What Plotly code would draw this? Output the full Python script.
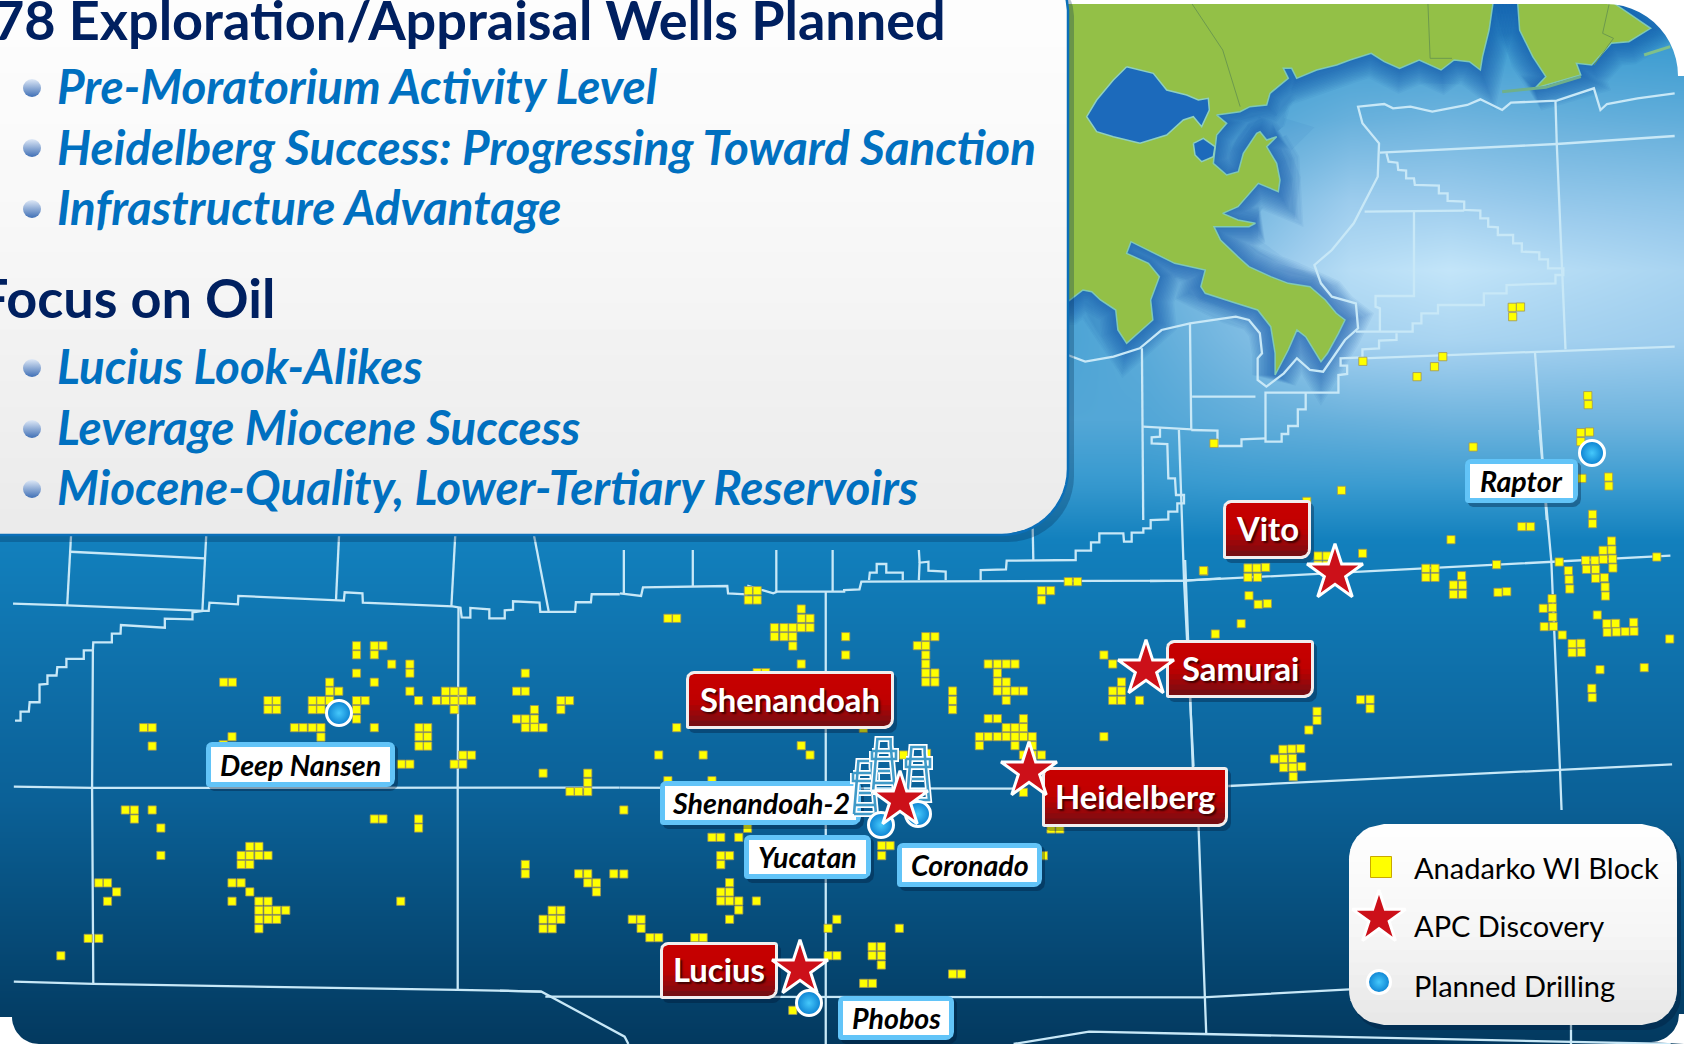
import numpy as np
import plotly.graph_objects as go

W, H = 1684, 1044
# ---------- reading frames of the picture: (origin x, origin y, scale x, scale y)
F1 = (1000, 0, 2.29, 3.0)
F2 = (0, 520, 2.53, 2.99)
F3 = (620, 560, 2.61, 3.0)
F4 = (1150, 430, 2.94, 3.0)
F5 = (1070, 0, 3.0, 3.0)
F6 = (930, 400, 3.0, 3.0)
F7 = (500, 960, 1.324, 3.0)

def conv(pts, f):
    return [(f[0] + p[0] / f[2], f[1] + p[1] / f[3]) for p in pts]

# ---------- sea shading
sea_x = [12, 1067, 1150, 1250, 1350, 1450, 1550, 1680]
sea_y = [4, 120, 200, 270, 340, 420, 490, 540, 640, 800, 900, 1044]
sea_z = [
    [.45, .50, .52, .52, .52, .50, .50, .50],
    [.45, .52, .58, .62, .68, .70, .68, .66],
    [.50, .58, .62, .72, .85, .85, .82, .80],
    [.50, .60, .68, .80, .95, 1.0, .95, .90],
    [.50, .60, .65, .75, .88, .90, .88, .85],
    [.50, .62, .62, .66, .68, .70, .70, .70],
    [.50, .53, .53, .54, .54, .54, .54, .54],
    [.45, .45, .45, .45, .45, .45, .45, .45],
    [.38, .38, .38, .38, .38, .38, .38, .38],
    [.27, .27, .27, .27, .27, .27, .27, .27],
    [.15, .15, .15, .15, .15, .15, .15, .15],
    [.00, .00, .00, .00, .00, .00, .00, .00],
]
sea_scale = [[0, "#03395f"], [.15, "#07507f"], [.3, "#0c659d"], [.45, "#1280bd"],
             [.55, "#3a9bd0"], [.7, "#6fb4de"], [.85, "#9ccced"], [1, "#c3e5f9"]]

# ---------- land
land_a = [(100,0),(1130,0),(1120,90),(1105,170),(1100,210),(1075,185),(1040,180),(1010,210),(960,180),(915,205),(880,185),(850,160)]
land_b = [(840,180),(800,195),(740,210),(680,235),(665,205),(640,205),(655,235),(600,280),(590,315),(540,320),(510,335),(470,340),(440,345),(470,370),(440,405),(430,490),(470,525),(505,515),(520,460),(560,400),(570,395),(590,420),(620,410),(590,440),(620,490),(630,540),(625,575),(565,550),(520,600)]
land_c = [(545,620),(510,640),(545,660),(585,670),(570,680),(490,680),(505,720),(545,770),(570,800),(620,830),(660,850),(710,860),(745,900),(770,940),(790,960),(775,1000),(750,1060),(735,1085),(700,1010),(680,990),(660,1050),(630,1125),(630,1060),(620,980),(590,930),(530,905),(470,880),(460,860),(470,810),(400,790),(340,750),(300,725),(290,760),(340,790),(365,830),(345,900),(350,960),(290,1030),(270,990),(265,930),(230,900),(210,875),(190,870),(155,905),(100,905)]
land_east = [(1185,0),(1190,90),(1220,170),(1250,230),(1225,265),(1330,225),(1320,190),(1355,195),(1400,130),(1440,125),(1490,85),(1440,40),(1395,0)]
lake = [(170,200),(250,220),(290,270),(350,285),(385,300),(415,295),(418,330),(395,380),(370,350),(340,360),(290,405),(210,430),(130,410),(80,395),(50,350),(80,300),(130,240)]
pond = [(370,430),(400,415),(435,440),(430,470),(395,485),(375,465)]
barrier_isle = [(1150,275),(1250,262),(1330,230)]
east_isle = [(1475,165),(1535,140)]
state_lines = [[(440,12),(510,150),(550,320)], [(980,12),(985,175),(1035,175)], [(1395,12),(1380,100),(1405,115),(1360,195)]]

# ---------- lease-area boundary lines
lines_f1 = [
 [(155,1065),(195,1085),(260,1070),(320,1045),(370,990),(435,970),(540,950),(570,960),(595,1000),(600,1060),(590,1075),(590,1140),(610,1160),(650,1120),(680,1075),(710,1110),(740,1115),(790,1020),(820,985),(815,910),(760,890),(735,850),(720,795),(760,750),(810,670),(865,530),(868,430),(830,370),(820,320),(880,312),(900,325),(940,320),(990,335),(1070,315),(1100,298),(1150,330),(1170,308),(1275,302),(1360,265),(1375,330),(1390,312),(1460,295),(1545,280)],
 [(870,458),(1275,432),(1545,408)],
 [(1272,302),(1275,432),(1295,1048)],
 [(885,460),(890,485),(910,488),(912,510),(930,512),(930,535),(948,535),(950,555),(1005,557),(1005,580),(1025,580),(1025,603),(1063,605),(1063,630),(1100,632),(1100,655),(1118,655),(1118,680),(1140,682),(1140,705),(1175,705),(1175,730),(1195,730),(1195,755),(1235,757),(1235,778),(1255,778),(1255,805),(1290,805),(1290,825),(1272,825),(1272,850),(1160,855),(1160,880),(1108,880),(1108,915),(1003,915),(1003,940),(965,940),(965,970),(945,970),(945,995),(815,995)],
 [(835,635),(1063,632)],
 [(948,635),(948,888),(860,888),(860,920),(870,925),(870,995)],
 [(908,1000),(908,1020),(868,1022),(868,1045),(830,1048),(830,1072),(780,1075),(780,1097),(795,1097),(795,1122),(775,1125),(775,1178),(608,1178),(608,1325),(645,1325),(645,1302),(660,1302),(660,1278),(682,1278),(682,1228),(700,1228),(700,1178)],
 [(830,1075),(1225,1055),(1545,1040)],
 [(1225,1055),(1252,1560)],
 [(325,1045),(328,1560)],
 [(435,970),(438,1288),(328,1280)],
 [(440,1190),(585,1190)],
 [(438,1290),(498,1292),(498,1338),(553,1338),(553,1318),(608,1315)],
]
lines_f2 = [
 [(33,250),(170,255),(515,272),(528,272),(530,247),(602,252),(603,227),(850,241),(870,241),(872,216),(917,219),(918,247),(1145,258),(1165,262),(1168,291),(1190,292),(1190,263),(1238,267),(1238,294),(1277,294),(1277,270),(1298,268),(1298,243),(1365,247),(1367,275),(1455,275),(1457,246),(1495,246),(1497,222),(1568,222)],
 [(180,40),(170,255)], [(178,95),(518,115)], [(522,40),(512,272)], [(858,40),(850,241)], [(1152,40),(1142,258)], [(1350,40),(1388,272)],
 [(38,600),(52,600),(52,573),(73,573),(75,545),(100,545),(100,492),(120,490),(120,465),(143,465),(145,440),(168,440),(168,415),(212,415),(212,390),(235,390),(236,366),(283,366),(283,340),(305,340),(306,314),(417,322),(417,295),(487,297),(487,276),(515,272)],
 [(235,390),(233,800),(236,1386)],
 [(1160,262),(1158,800),(1158,1405)],
 [(35,797),(233,801),(1568,800)],
 [(35,1380),(236,1387),(1158,1405),(1370,1410)],
]
lines_f3 = [
 [(0,100),(55,108),(60,82),(280,78),(282,100),(330,103),(335,78),(400,100),(410,95),(585,95),(585,90),(625,88),(630,65),(1474,62),(1568,55)],
 [(650,60),(652,38),(670,38),(670,12),(695,12),(695,38),(738,38),(738,60)],
 [(780,60),(782,8),(805,5),(805,32),(850,35),(850,60)],
 [(10,-30),(10,100)], [(190,-30),(190,80)], [(408,-30),(408,95)], [(555,-30),(555,95)],
 [(780,-30),(782,8)],
 [(537,95),(537,1452)],
 [(0,683),(1040,686)],
 [(1475,0),(1482,240),(1495,620),(1510,800),(1530,1420)],
]
lines_f4 = [
 [(85,0),(100,450),(128,1010)],
 [(0,453),(100,452),(620,425),(1530,377)],
 [(1145,0),(1180,395),(1205,1010),(1210,1140)],
 [(230,1068),(1535,1003)],
]
lines_f6 = [
 [(690,85),(690,110),(665,112),(665,130),(712,132),(715,235),(735,235),(738,285),(762,285),(762,310),(742,310),(742,335),(715,335),(715,358),(662,360),(662,385),(640,385),(640,398),(605,398),(605,425),(582,425),(580,400),(508,400),(508,427),(483,427),(483,452),(437,452),(437,480),(230,482),(228,508),(152,510),(152,540)],
 [(308,385),(310,480)],
]
lines_f7 = [
 [(0,92),(55,95),(165,230),(170,252)],
 [(60,110),(930,112),(1125,88)],
 [(680,252),(780,215),(930,222),(1420,245),(1550,252)],
 [(1418,195),(1418,252)],
]

# ---------- Anadarko WI blocks
blocks_f1 = [(1173,922),(1192,921),(1174,950),(1014,1070),(995,1100),(955,1130),(831,1084),(490,1330),(1346,1187),(1347,1214),(1330,1298),(1350,1296),(1330,1325)]
blocks_f2 = [(902,376),(902,403),(947,376),(969,376),(947,403),(991,431),(1037,431),(1037,458),(902,458),(947,485),(1037,512),(1059,540),(566,485),(588,485),(834,485),(834,512),(857,512),(678,540),(700,540),(678,567),(700,567),(790,540),(812,540),(834,540),(790,567),(812,567),(902,540),(924,540),(902,567),(902,595),(745,621),(767,621),(790,621),(812,621),(812,649),(947,621),(1127,512),(1149,512),(1171,512),(1104,540),(1127,540),(1149,540),(1171,540),(1193,540),(1149,567),(1060,621),(1082,621),(1060,648),(1082,648),(1060,676),(1082,676),(363,621),(385,621),(385,676),(587,648),(565,672),(1171,703),(1193,703),(1149,730),(1171,730),(1015,730),(1037,730),(1329,458),(1307,512),(1329,512),(1419,540),(1441,540),(1419,567),(1352,567),(1307,595),(1329,595),(1352,595),(1329,621),(1352,621),(1374,621),(1374,757),(1487,757),(1487,785),(1442,812),(1464,812),(1487,812),(317,867),(340,867),(340,894),(385,867),(407,921),(407,1003),(947,894),(969,894),(1059,894),(1059,921),(632,976),(655,976),(610,1003),(632,1003),(655,1003),(678,1003),(610,1030),(632,1030),(1329,1030),(1329,1058),(1464,1058),(1487,1058),(1487,1085),(1509,1085),(1509,1112),(1553,1058),(250,1085),(272,1085),(295,1112),(272,1140),(587,1085),(610,1085),(632,1112),(587,1140),(655,1140),(678,1140),(655,1167),(678,1167),(700,1167),(723,1167),(655,1194),(678,1194),(700,1194),(655,1222),(1014,1140),(1397,1167),(1419,1167),(1374,1194),(1397,1194),(1419,1194),(1374,1222),(1397,1222),(223,1251),(250,1251),(154,1303)]
blocks_f3 = [(335,92),(358,92),(335,120),(358,120),(125,175),(148,175),(473,147),(473,175),(496,175),(403,203),(428,203),(451,203),(473,203),(496,203),(403,230),(428,230),(451,230),(451,258),(473,312),(358,338),(380,338),(589,230),(589,285),(798,230),(822,230),(776,257),(798,257),(798,285),(798,312),(798,339),(822,339),(798,366),(822,366),(868,393),(868,421),(868,449),(961,312),(985,312),(1008,312),(1031,312),(985,339),(985,366),(1008,366),(985,393),(1008,393),(1031,393),(1053,393),(1008,421),(961,476),(985,476),(1053,476),(1008,503),(1031,503),(1053,503),(938,530),(961,530),(985,530),(1008,530),(1031,530),(1053,530),(1076,530),(938,557),(1031,557),(1076,557),(1053,585),(1076,585),(1100,585),(1263,530),(1263,285),(1286,312),(1309,366),(1286,393),(1309,393),(1286,421),(1309,421),(1356,421),(1100,92),(1124,92),(1100,120),(1170,65),(1194,65),(1524,33),(148,503),(635,505),(473,557),(496,585),(101,585),(217,585),(125,662),(240,662),(10,750),(333,805),(240,832),(263,832),(310,832),(263,887),(286,887),(263,914),(10,942),(286,968),(263,996),(286,996),(263,1023),(286,1023),(310,1023),(356,1023),(310,1050),(286,1078),(683,857),(705,857),(683,887),(1105,887),(1125,807),(1148,807),(1053,697),(740,585),(800,580),(32,1078),(55,1078),(55,1105),(78,1133),(101,1133),(195,1133),(217,1133),(566,1078),(543,1105),(729,1105),(658,1160),(682,1160),(658,1187),(682,1187),(682,1215),(543,1187),(566,1187),(868,1242),(891,1242),(636,1270),(659,1270),(451,1351)]
blocks_f4 = [(950,51),(563,181),(461,214),(625,370),(885,329),(1093,290),(1119,290),(1301,253),(1301,281),(1250,145),(1270,145),(1348,141),(1349,168),(157,422),(288,414),(314,414),(340,412),(288,442),(316,442),(494,378),(520,378),(494,405),(520,405),(291,497),(318,523),(345,521),(268,581),(192,612),(811,415),(838,415),(811,442),(838,442),(916,437),(892,465),(919,465),(892,493),(919,493),(1019,404),(1023,487),(1049,485),(1203,396),(1230,422),(1232,449),(1234,477),(1182,506),(1156,535),(1183,533),(1184,561),(1159,590),(1186,589),(1212,615),(1241,641),(1267,640),(1241,668),(1268,667),(1281,391),(1308,391),(1332,361),(1357,333),(1358,360),(1333,388),(1360,387),(1361,414),(1283,418),(1310,418),(1310,445),(1336,443),(1338,471),(1339,498),(1315,555),(1343,581),(1369,580),(1422,577),(1344,607),(1371,606),(1397,605),(1423,604),(1490,381),(1528,627),(1323,719),(1453,713),(1299,775),(1300,803),(619,809),(647,808),(647,836),(491,844),(491,871),(467,900),(391,958),(417,957),(443,956),(366,987),(392,986),(419,985),(393,1013),(420,1012),(446,1010),(421,1040)]

# ---------- named features
star_x = [1335, 1146, 1029, 900, 800]
star_y = [573, 669, 771, 800, 969]
drill_x = [1592, 339, 881, 918, 809]
drill_y = [453, 713, 825, 814, 1003]
tower_cx = [865, 884, 918]
tower_cy = [787, 765, 773]
red_labels = ["Shenandoah", "Samurai", "Heidelberg", "Vito", "Lucius"]
red_boxes = [(686,671,894,729),(1166,640,1314,698),(1042,767,1228,827),(1223,500,1311,559),(660,942,778,999)]
white_labels = ["Deep Nansen", "Raptor", "Shenandoah-2", "Yucatan", "Coronado", "Phobos"]
white_boxes = [(206,742,395,787),(1465,459,1578,503),(660,781,861,825),(744,835,871,879),(897,843,1042,887),(838,996,954,1040)]
headings = ["78 Exploration/Appraisal Wells Planned", "Focus on Oil"]
heading_right = [948, 277]
heading_y = [19, 297]
bullets = ["Pre-Moratorium Activity Level", "Heidelberg Success: Progressing Toward Sanction", "Infrastructure Advantage",
           "Lucius Look-Alikes", "Leverage Miocene Success", "Miocene-Quality, Lower-Tertiary Reservoirs"]
bullet_y = [85, 146, 206, 365, 426, 486]
bullet_dot_y = [88, 148, 209, 368, 429, 489]
legend_labels = ["Anadarko WI Block", "APC Discovery", "Planned Drilling"]
legend_y = [867, 925, 985]

LINE = "#c8e8f7"
fig = go.Figure()

def poly(pts, fill, line=None, lw=0):
    xs, ys = zip(*pts)
    fig.add_trace(go.Scatter(x=list(xs) + [xs[0]], y=list(ys) + [ys[0]], mode="lines", fill="toself", fillcolor=fill,
                             line=dict(color=line or fill, width=lw), hoverinfo="skip"))

def path(pts, color, w, close=False):
    xs, ys = zip(*pts)
    if close:
        xs, ys = list(xs) + [xs[0]], list(ys) + [ys[0]]
    fig.add_trace(go.Scatter(x=list(xs), y=list(ys), mode="lines", line=dict(color=color, width=w, shape="linear"), hoverinfo="skip"))

def arc(cx, cy, r, a0, a1, n=14):
    t = np.radians(np.linspace(a0, a1, n))
    return [(cx + r * np.cos(v), cy + r * np.sin(v)) for v in t]

def outline(x0, y0, x1, y1, r):
    tl, tr, br, bl = r
    p = []
    p += arc(x0 + tl, y0 + tl, tl, 180, 270) if tl else [(x0, y0)]
    p += arc(x1 - tr, y0 + tr, tr, 270, 360) if tr else [(x1, y0)]
    p += arc(x1 - br, y1 - br, br, 0, 90) if br else [(x1, y1)]
    p += arc(x0 + bl, y1 - bl, bl, 90, 180) if bl else [(x0, y1)]
    return p

def edges(y, x0, y0, x1, y1, r):
    tl, tr, br, bl = r
    def cut(rad, d):
        return rad - np.sqrt(max(rad * rad - (rad - d) ** 2, 0)) if rad and d < rad else 0
    return x0 + max(cut(tl, y - y0), cut(bl, y1 - y)), x1 - max(cut(tr, y - y0), cut(br, y1 - y))

def hex2(c):
    return np.array([int(c[i:i + 2], 16) for i in (1, 3, 5)], float)

def grad_box(box, r, stops, n):
    x0, y0, x1, y1 = box
    ys = np.linspace(y0, y1, n + 1)
    pos = [s[0] for s in stops]
    cols = np.array([hex2(s[1]) for s in stops])
    for i in range(n):
        a, b = ys[i], min(ys[i + 1] + 1, y1)
        m = (ys[i] + ys[i + 1]) / 2
        t = (m - y0) / (y1 - y0)
        c = [np.interp(t, pos, cols[:, k]) for k in range(3)]
        yy = np.linspace(a, b, 5)
        L = [(edges(v, x0, y0, x1, y1, r)[0], v) for v in yy]
        R = [(edges(v, x0, y0, x1, y1, r)[1], v) for v in yy]
        poly(L + R[::-1], "rgb(%d,%d,%d)" % tuple(c))

# sea
fig.add_trace(go.Heatmap(x=sea_x, y=sea_y, z=sea_z, colorscale=sea_scale, zmin=0, zmax=1, zsmooth="best", showscale=False, hoverinfo="skip"))

# land with shore shading
land_m = conv(land_a, F1) + conv(land_b, F5) + conv(land_c, F1)
land_e = conv(land_east, F1)
for pts in (land_m, land_e):
    for w in range(46, 3, -3):
        path(pts, "rgba(22,88,172,0.06)", w, True)
    poly(pts, "#93c047")
    path(pts, "rgba(130,205,190,0.9)", 1.5, True)
for pts in (conv(lake, F5), conv(pond, F5)):
    poly(pts, "#1c6abb", "#8fd0c0", 1.5)
path(conv(barrier_isle, F1), "#6fb08a", 3)
path(conv(east_isle, F1), "#7fc08a", 3)
for s in state_lines:
    path(conv(s, F1), "#6d9a4d", 1)

# boundaries
for group, f in ((lines_f1, F1), (lines_f2, F2), (lines_f3, F3), (lines_f4, F4), (lines_f6, F6), (lines_f7, F7)):
    for l in group:
        path(conv(l, f), LINE, 2.3)

# blocks
bpts = conv(blocks_f1, F1) + conv(blocks_f2, F2) + conv(blocks_f3, F3) + conv(blocks_f4, F4)
fig.add_trace(go.Scatter(x=[p[0] for p in bpts], y=[p[1] for p in bpts], mode="markers", hoverinfo="skip",
                         marker=dict(symbol="square", size=8.2, color="#ffff00", line=dict(color="#a0965a", width=0.8))))

# page-corner masks and top margin
poly([(1606, 0)] + arc(1606, 76, 72, 270, 360) + [(1684, 76), (1684, 0)], "#ffffff")
poly(arc(39, 1017, 27, 90, 180) + [(0, 1017), (0, 1044)], "#ffffff")
poly(arc(1651, 1014, 28, 0, 90) + [(1684, 1044), (1684, 1014)], "#ffffff")
poly([(1040, 0), (1684, 0), (1684, 4), (1040, 4)], "#ffffff")

# text panel
PANEL = (-20, -30, 1068, 535)
PR = (0, 40, 66, 0)
poly(outline(-20, -24, 1074, 542, PR), "rgba(0,40,80,0.28)")
grad_box(PANEL, PR, [(0, "#ffffff"), (.4, "#f9f9f9"), (1, "#ebebeb")], 22)
path(outline(*PANEL, PR), "#0b6fb8", 2.5, True)
fig.add_trace(go.Scatter(x=[32] * len(bullet_dot_y), y=bullet_dot_y, mode="markers", hoverinfo="skip",
                         marker=dict(symbol="circle", size=18, opacity=1, color="#dfe9f7", gradient=dict(type="vertical", color="#3f6fb5"), line=dict(width=0))))

# legend panel
LB = (1349, 824, 1677, 1025)
LR = (35, 35, 35, 35)
poly(outline(1352, 828, 1681, 1030, LR), "rgba(0,20,50,0.30)")
grad_box(LB, LR, [(0, "#ffffff"), (.5, "#f7f7f7"), (1, "#e8e8e8")], 16)

# white labels
for b in white_boxes:
    x0, y0, x1, y1 = b
    poly(outline(x0 + 3, y0 + 3, x1 + 3, y1 + 4, (5, 5, 8, 5)), "rgba(0,20,50,0.35)")
    poly(outline(x0, y0, x1, y1, (6, 6, 8, 3)), "#62c4f8")
    poly([(x0 + 5, y0 + 5), (x1 - 5, y0 + 5), (x1 - 5, y1 - 5), (x0 + 5, y1 - 5)], "#ffffff")

# red labels
for b in red_boxes:
    x0, y0, x1, y1 = b
    poly(outline(x0 + 3, y0 + 3, x1 + 3, y1 + 4, (5, 5, 8, 5)), "rgba(0,20,50,0.35)")
    poly(outline(x0, y0, x1, y1, (8, 3, 10, 2)), "#f2eeee")
    grad_box((x0 + 3, y0 + 3, x1 - 3, y1 - 3), (5, 0, 7, 0), [(0, "#c80000"), (.5, "#c00000"), (.85, "#8c0a0e"), (1, "#6e1015")], 10)

# towers
tower_tx = [-5, -3, -3, 3, 3, 5]
tower_ty = [27, -20, -26, -26, -20, 27]
brace_tx = [-12, 12, 12, -12, -12]
brace_ty = [-14, -14, -6, -6, -14]
for cx, cy in zip(tower_cx, tower_cy):
    for col, w in (("#ffffff", 6), ("#3f9ac8", 2.6)):
        path([(cx + a * 2.2, cy + b) for a, b in zip(tower_tx, tower_ty)], col, w, True)
        path([(cx + a, cy + b) for a, b in zip(brace_tx, brace_ty)], col, w)
        path([(cx - 6, cy + 6), (cx + 6, cy + 6)], col, w)
        path([(cx - 9, cy + 18), (cx + 9, cy + 18)], col, w)

# planned drilling circles and stars, with the legend's copies
lx = [1379, 1379, 1381]
fig.add_trace(go.Scatter(x=drill_x + [lx[0]], y=drill_y + [legend_y[2] - 3], mode="markers", hoverinfo="skip",
                         marker=dict(symbol="circle", size=[25] * 5 + [23], opacity=1, color="#0a7fd0", gradient=dict(type="radial", color="#45c8fb"),
                                     line=dict(color="#ffffff", width=3))))
fig.add_trace(go.Scatter(x=star_x + [lx[1]], y=star_y + [legend_y[1] - 7], mode="markers", hoverinfo="skip",
                         marker=dict(symbol="star", size=[42] * 5 + [40], opacity=1, color="#cc1019", line=dict(color="#ffffff", width=3))))
fig.add_trace(go.Scatter(x=[lx[2]], y=[legend_y[0]], mode="markers", hoverinfo="skip",
                         marker=dict(symbol="square", size=21, color="#ffff00", line=dict(color="#c9a800", width=1))))

def note(text, x, y, size, color, anchor="center", shadow=None):
    fig.add_annotation(x=x, y=y, text=text, showarrow=False, xanchor=anchor, yanchor="middle", xref="x", yref="y",
                       font=dict(family="Lato", size=size, color=color, shadow=shadow or "none"))

for t, x, y in zip(headings, heading_right, heading_y):
    note("<b>%s</b>" % t, x, y, 54, "#002060", "right")
for t, y in zip(bullets, bullet_y):
    note("<b><i>%s</i></b>" % t, 55, y, 47.6, "#0070c0", "left")
for t, b in zip(red_labels, red_boxes):
    note("<b>%s</b>" % t, (b[0] + b[2]) / 2, (b[1] + b[3]) / 2 - 1, 32.8, "#ffffff", shadow="2px 2px 2px #400000")
for t, b in zip(white_labels, white_boxes):
    note("<b><i>%s</i></b>" % t, (b[0] + b[2]) / 2, (b[1] + b[3]) / 2, 28.6, "#000000")
for t, y in zip(legend_labels, legend_y):
    note(t, 1412, y, 29, "#000000", "left")

fig.update_layout(width=W, height=H, margin=dict(l=0, r=0, t=0, b=0), paper_bgcolor="#ffffff", plot_bgcolor="#ffffff", showlegend=False,
                  xaxis=dict(range=[0, W], visible=False, fixedrange=True),
                  yaxis=dict(range=[H, 0], visible=False, fixedrange=True))
fig.write_html("out.html", post_script="document.body.style.margin='0';document.documentElement.style.overflow='hidden';",
               config=dict(displayModeBar=False))
